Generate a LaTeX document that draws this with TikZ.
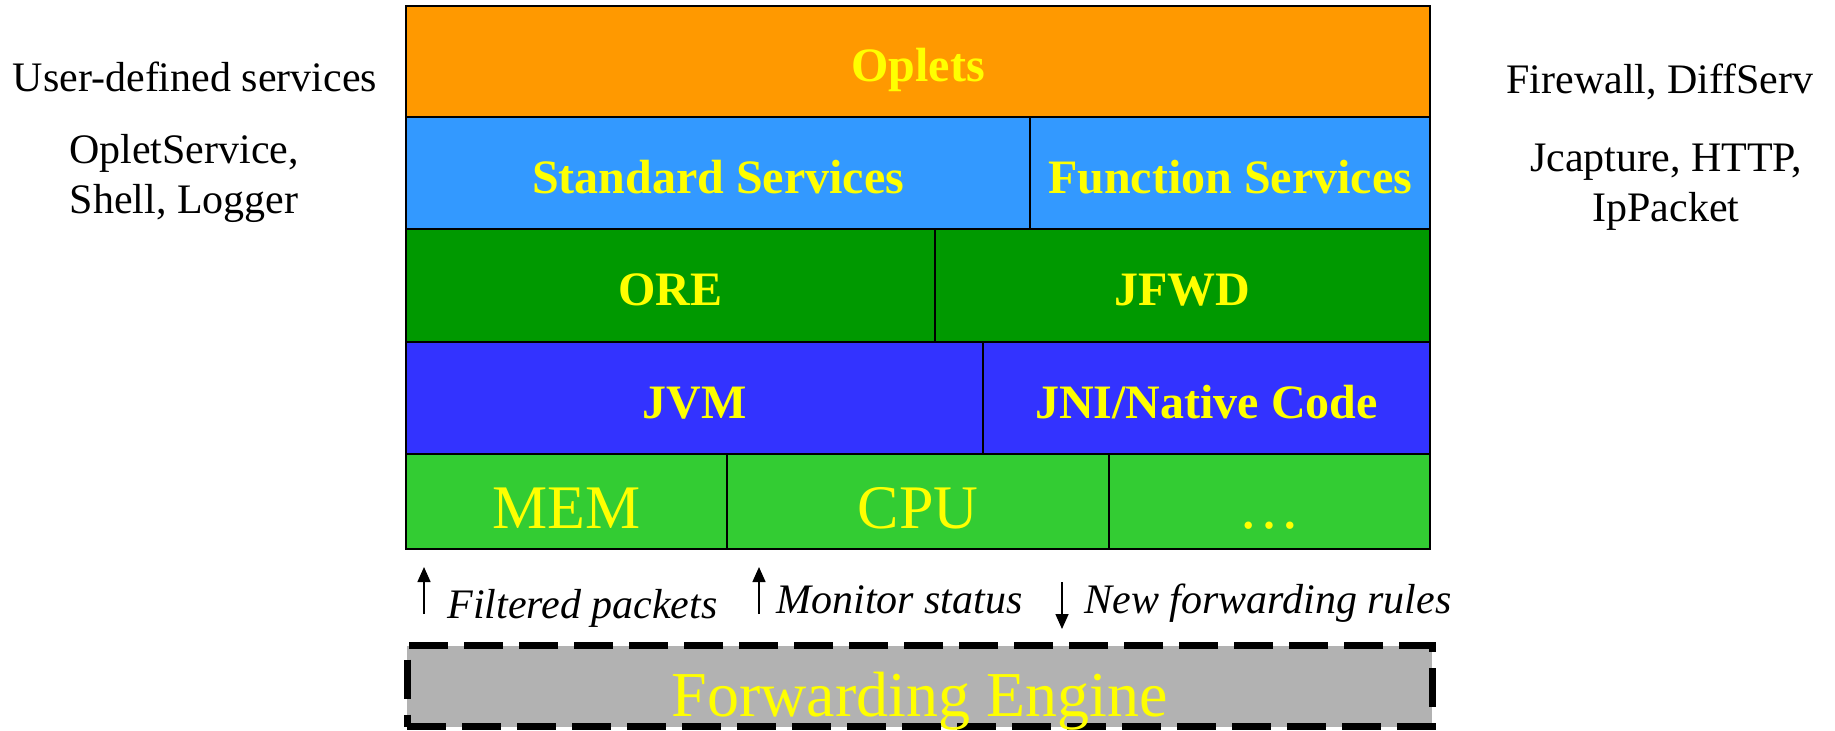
\documentclass[tikz,border=0pt]{standalone}
\usepackage{fontspec}
\setmainfont{Liberation Serif}
\usetikzlibrary{arrows.meta}
\definecolor{opletorange}{HTML}{FF9900}
\definecolor{svcblue}{HTML}{3399FF}
\definecolor{oregreen}{HTML}{009900}
\definecolor{jvmblue}{HTML}{3333FF}
\definecolor{hwgreen}{HTML}{33CC33}
\definecolor{labelyellow}{HTML}{FFFF00}
\definecolor{engingray}{HTML}{B2B2B2}
\tikzset{
  cell/.style={draw=black, line width=1.2pt, inner sep=0pt, text=labelyellow,
    text height=20pt, text depth=0pt,
    font=\fontsize{24}{28}\selectfont\bfseries},
  hwcell/.style={cell, fill=hwgreen, text height=26.5pt, text depth=0pt,
    font=\fontsize{31}{36}\selectfont},
  side/.style={align=center, font=\fontsize{21}{25}\selectfont},
  flow/.style={font=\fontsize{21}{24}\selectfont\itshape, anchor=base west, inner sep=0pt},
  flowarrow/.style={line width=0.75pt, -{Triangle[length=7.5pt,width=6.5pt]}}
}
\begin{document}
\begin{tikzpicture}[x=0.5pt, y=-0.5pt]
\useasboundingbox (0,0) rectangle (1835,730);

% layered architecture stack
\node[cell, fill=opletorange, minimum width=512pt, minimum height=55.5pt] (oplets) at (918,61.5) {Oplets};

\node[cell, fill=svcblue, minimum width=312pt, minimum height=56pt] (stdsvc) at (718,173) {Standard Services};
\node[cell, fill=svcblue, minimum width=200pt, minimum height=56pt] (funcsvc) at (1230,173) {Function Services};

\node[cell, fill=oregreen, minimum width=264.5pt, minimum height=56.5pt] (ore) at (670.5,285.5) {ORE};
\node[cell, fill=oregreen, minimum width=247.5pt, minimum height=56.5pt] (jfwd) at (1182.5,285.5) {JFWD};

\node[cell, fill=jvmblue, minimum width=288.5pt, minimum height=56pt] (jvm) at (694.5,398) {JVM};
\node[cell, fill=jvmblue, minimum width=223.5pt, minimum height=56pt] (jni) at (1206.5,398) {JNI/Native Code};

\node[hwcell, minimum width=160.5pt, minimum height=47.5pt] (mem) at (566.5,501.5) {MEM};
\node[hwcell, minimum width=191pt, minimum height=47.5pt] (cpu) at (918,501.5) {CPU};
\node[hwcell, minimum width=160.5pt, minimum height=47.5pt] (more) at (1269.5,501.5) {\dots};

% forwarding engine
\node[draw=black, fill=engingray, line width=3.5pt, dash pattern=on 19.5pt off 8pt,
      inner sep=0pt, minimum width=512.5pt, minimum height=40.5pt,
      text height=30pt, text depth=0pt,
      text=labelyellow, font=\fontsize{32}{36}\selectfont] (engine) at (919.5,686) {Forwarding Engine};

% side annotations
\node[side] (userdef) at (195,77) {User-defined services};
\node[side] (stdlist) at (184,178.5) {OpletService,\\Shell, Logger};
\node[side] (fwlist) at (1660,82) {Firewall, DiffServ};
\node[side] (funclist) at (1666,187.5) {Jcapture, HTTP,\\IpPacket};

% traffic between the engine and the stack
\coordinate (fpS) at (424,614);
\coordinate (fpE) at (424,567);
\coordinate (msS) at (759,614);
\coordinate (msE) at (759,567);
\coordinate (nrS) at (1062,582);
\coordinate (nrE) at (1062,629);
\draw[flowarrow] (fpS) -- (fpE);
\draw[flowarrow] (msS) -- (msE);
\draw[flowarrow] (nrS) -- (nrE);
\node[flow] (fplabel) at (447,618) {Filtered packets};
\node[flow] (mslabel) at (776,613) {Monitor status};
\node[flow] (nrlabel) at (1084,613) {New forwarding rules};
\end{tikzpicture}
\end{document}
